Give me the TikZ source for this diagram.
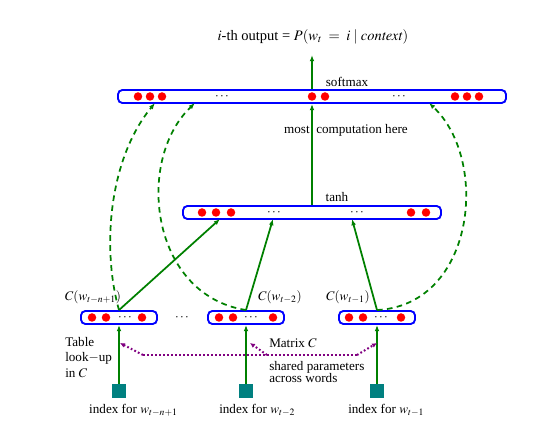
\documentclass[tikz,border=0pt]{standalone}
\usepackage{mathptmx}
\usepackage{fontspec}
\setmainfont{Liberation Serif}
\usetikzlibrary{positioning}
\usetikzlibrary{arrows.meta}
\tikzset{
    layer/.style = {rectangle, rounded corners=3.5pt, draw=blue, line width=1.5pt, minimum height=10.4pt, inner sep=0pt},
    unit/.style = {circle, fill=red, inner sep=0pt, minimum size=6.8pt},
    wordidx/.style = {rectangle, fill=teal, inner sep=0pt, minimum size=11.2pt},
    lbl/.style = {inner sep=0pt, font=\fontsize{10.5}{12.4}\selectfont},
    edgeg/.style = {-{Latex[length=5pt,width=3.8pt]}, line width=1.4pt, draw=green!50!black},
    edgegd/.style = {edgeg, dash pattern=on 4.5pt off 3.5pt}, % direct connections
    edgevd/.style = {-{Latex[length=4pt,width=3.8pt]}, line width=1.6pt, violet, dash pattern=on 1.4pt off 1.8pt}, % shared C
}

\begin{document}
\begin{tikzpicture}[x=0.8pt,y=-0.8pt]
\useasboundingbox (0,0) rectangle (554,444);
%
\node[layer, minimum width=310.4pt] at (312,96.5) (out) {};
\node[layer, minimum width=206.4pt] at (312,212.5) (hid) {};
\node[layer, minimum width=60.8pt] at (119,317.5) (c1) {};
\node[layer, minimum width=60.8pt] at (246,317.5) (c2) {};
\node[layer, minimum width=60.8pt] at (377,317.5) (c3) {};
%
\foreach \x in {138,150,162,312,325,455,467,479}
    \node[unit] at (\x,96.5) (o\x) {};
\foreach \x in {202,216,231,411,426}
    \node[unit] at (\x,212.5) (h\x) {};
\foreach \x in {92,106,142,219,233,273,349,363,401}
    \node[unit] at (\x,317.5) (e\x) {};
\foreach \x/\y in {222/96.5,399/96.5,274/212.5,357/212.5,125/317.5,251/317.5,381/317.5,182/318}
    \node[lbl] at (\x,\y) (d\x) {$\cdots$};
%
\node[wordidx] at (119,391) (i1) {};
\node[wordidx] at (246,391) (i2) {};
\node[wordidx] at (377,391) (i3) {};
%
\node[lbl, font=\fontsize{11.6}{13}\selectfont] at (313,37) (outtxt) {$i$-th output = $P(w_t\;=\;i\mid \mathit{context})$};
\node[lbl] at (347,82) (smx) {softmax};
\node[lbl] at (346,130) (most) {most\ \ computation here};
\node[lbl] at (337,197) (tnh) {tanh};
\node[lbl] at (93,297) (lc1) {$C(w_{t-n+1})$};
\node[lbl] at (280,297) (lc2) {$C(w_{t-2})$};
\node[lbl] at (348,297) (lc3) {$C(w_{t-1})$};
\node[lbl, align=left, anchor=north west] at (65,337) (tbl) {Table\\look$-$up\\in $C$};
\node[lbl, anchor=west] at (269,343) (mtx) {Matrix $C$};
\node[lbl, align=left, anchor=north west, font=\fontsize{10.5}{9.8}\selectfont] at (269,361) (shr) {shared parameters\\across words};
\node[lbl, anchor=west] at (89,410) (ix1) {index for $w_{t-n+1}$};
\node[lbl, anchor=west] at (219,410) (ix2) {index for $w_{t-2}$};
\node[lbl, anchor=west] at (348,410) (ix3) {index for $w_{t-1}$};
%
\coordinate (ctx) at (312,55);
\coordinate (ha) at (220,219);
\coordinate (hb) at (273,219);
\coordinate (hc) at (352,219);
\coordinate (oa) at (155,103);
\coordinate (ob) at (195,103);
\coordinate (oc) at (429,103);
\coordinate (ma) at (143,355);
\coordinate (mb) at (267,355);
\coordinate (mc) at (357,355);
\coordinate (ta) at (120,343);
\coordinate (tb) at (250,343);
\coordinate (tc) at (377,343);
%
\draw[edgeg] (out.north) -- (ctx);
\draw[edgeg] (hid.north) -- (out.south);
\draw[edgeg] (c1.north) -- (ha);
\draw[edgeg] (c2.north) -- (hb);
\draw[edgeg] (c3.north) -- (hc);
\draw[edgegd] (c1.north) .. controls (102,250) and (108,160) .. (oa);
\draw[edgegd] (c2.north) .. controls (150,295) and (135,160) .. (ob);
\draw[edgegd] (c3.north) .. controls (475,305) and (490,160) .. (oc);
\draw[edgeg] (i1.north) -- (c1.south);
\draw[edgeg] (i2.north) -- (c2.south);
\draw[edgeg] (i3.north) -- (c3.south);
\draw[edgevd,-] (ma) -- (mc);
\draw[edgevd] (ma) -- (ta);
\draw[edgevd] (mb) -- (tb);
\draw[edgevd] (mc) -- (tc);
\end{tikzpicture}
\end{document}
